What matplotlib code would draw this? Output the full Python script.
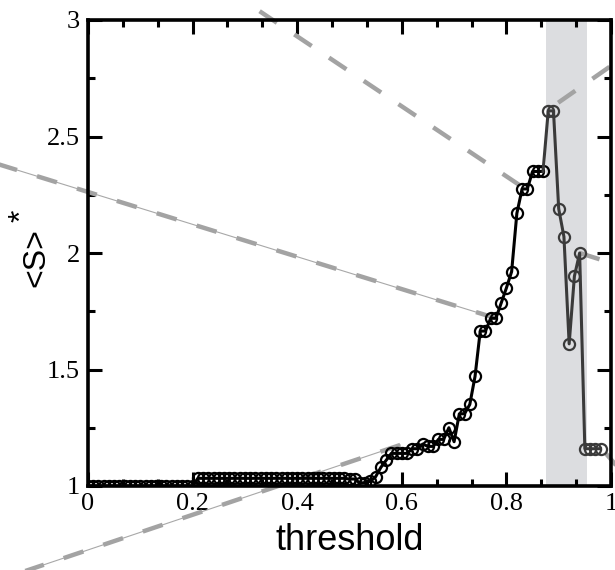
import numpy as np
import matplotlib
matplotlib.use("Agg")
import matplotlib.pyplot as plt
from matplotlib.ticker import MultipleLocator

# threshold values 0.00 .. 0.98 (step 0.01)
threshold = [round(0.01 * i, 2) for i in range(99)]

# <S>*
s_low = [1.0] * 21                      # 0.00 - 0.20
s_plateau = [1.033] * 29                # 0.21 - 0.49
s_rise = [1.03, 1.03, 1.012, 1.015, 1.02, 1.04, 1.08, 1.11,      # 0.50 - 0.57
          1.14, 1.14, 1.14, 1.14, 1.16, 1.16, 1.18, 1.17, 1.17,  # 0.58 - 0.66
          1.20, 1.20, 1.25, 1.19, 1.31, 1.31, 1.35, 1.47,        # 0.67 - 0.74
          1.665, 1.665, 1.72, 1.72, 1.785, 1.85, 1.92,           # 0.75 - 0.81
          2.17, 2.275, 2.275, 2.35, 2.35, 2.35]                  # 0.82 - 0.87
s_peak = [2.61, 2.61, 2.19, 2.07, 1.61, 1.90, 2.0,               # 0.88 - 0.94
          1.16, 1.16, 1.16, 1.16]                                # 0.95 - 0.98
s_star = s_low + s_plateau + s_rise + s_peak

n_black = 88  # points up to 0.87 drawn in black
shade_lo, shade_hi = 0.875, 0.955

# guide lines (start, end) in data coordinates
guide_a = ((0.78, 1.72), (-0.17, 2.38))
guide_b = ((0.826, 2.29), (0.30, 3.08))
guide_c = ((0.899, 2.645), (1.10, 2.96))
guide_d = ((0.94, 2.0), (1.10, 1.887))
guide_e = ((0.99, 1.14), (1.05, 0.985))
guide_f = ((0.597, 1.176), (-0.14, 0.62))

fig = plt.figure(figsize=(6.15, 5.7), dpi=100)
ax = fig.add_axes([88 / 615, 84 / 570, 523 / 615, 466 / 570])

ax.axvspan(shade_lo, shade_hi, color="#dcdde0", zorder=0, lw=0)

x = np.array(threshold)
y = np.array(s_star)
ax.plot(x[:n_black], y[:n_black], color="black", lw=2.2, zorder=3,
        marker="o", ms=8, mfc="none", mec="black", mew=1.6)
ax.plot(x[n_black - 1:], y[n_black - 1:], color="#3a3a3a", lw=2.2, zorder=3)
ax.plot(x[n_black:], y[n_black:], ls="none", zorder=3,
        marker="o", ms=8, mfc="none", mec="#3a3a3a", mew=1.6)

def guide(seg, thin=False):
    (x0, y0), (x1, y1) = seg
    if thin:
        ax.plot([x0, x1], [y0, y1], color="#a8a8a8", lw=0.8, clip_on=False, zorder=2)
    ln, = ax.plot([x0, x1], [y0, y1], color="#a3a3a3", lw=3.2, clip_on=False,
                  zorder=2, solid_capstyle="butt", dash_capstyle="butt")
    ln.set_dashes((4.7, 4.7))

guide(guide_a, thin=True)
guide(guide_b)
guide(guide_c)
guide(guide_d)
guide(guide_e)
guide(guide_f, thin=True)

ax.set_xlim(0, 1)
ax.set_ylim(1, 3)
ax.xaxis.set_major_locator(MultipleLocator(0.2))
ax.xaxis.set_minor_locator(MultipleLocator(0.2 / 3))
ax.yaxis.set_major_locator(MultipleLocator(0.5))
ax.yaxis.set_minor_locator(MultipleLocator(0.25))
ax.xaxis.set_major_formatter(plt.FuncFormatter(lambda v, p: f"{v:g}"))
ax.yaxis.set_major_formatter(plt.FuncFormatter(lambda v, p: f"{v:g}"))

ax.tick_params(which="both", direction="in", top=True, right=True, width=2.2)
ax.tick_params(which="major", length=10)
ax.tick_params(which="minor", length=5)
ax.tick_params(axis="x", pad=5)
ax.tick_params(axis="y", pad=6)
for lab in ax.get_xticklabels() + ax.get_yticklabels():
    lab.set_family("Liberation Serif")
    lab.set_fontsize(19)
for sp in ax.spines.values():
    sp.set_linewidth(2.6)
    sp.set_zorder(5)

ax.set_xlabel("threshold", family="Liberation Sans", fontsize=26, labelpad=6)

# y label: "<S>" with a raised asterisk, rotated
fig.text(36 / 615, 1 - 258 / 570, "<S>", rotation=90, family="Liberation Sans",
         fontsize=23, ha="center", va="center")
fig.text(22 / 615, 1 - 216 / 570, "*", rotation=90, family="Liberation Sans",
         fontsize=23, ha="center", va="center")

fig.savefig("out.png", dpi=100)
